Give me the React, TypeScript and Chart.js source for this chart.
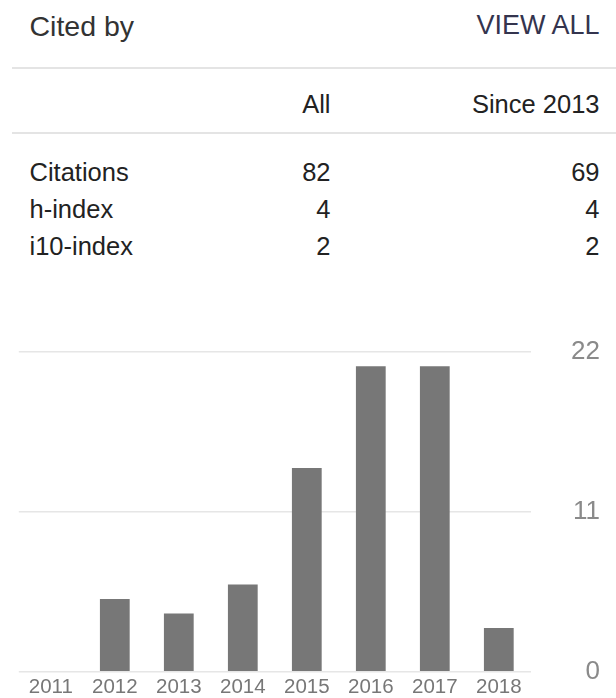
import React, { useEffect, useRef } from "react";
import { Chart, registerables } from "chart.js";

Chart.register(...registerables);

const years = ["2011", "2012", "2013", "2014", "2015", "2016", "2017", "2018"];
const citationsPerYear = [0, 5, 4, 6, 14, 21, 21, 3];
const yTicks = [0, 11, 22];

const columnHeaders = ["All", "Since 2013"];
const rowLabels = ["Citations", "h-index", "i10-index"];
const allValues = ["82", "4", "2"];
const sinceValues = ["69", "4", "2"];

const FONT = 'Arial, "Liberation Sans", sans-serif';

export default function App() {
  const canvasRef = useRef<HTMLCanvasElement | null>(null);

  useEffect(() => {
    const canvas = canvasRef.current;
    if (!canvas) return;
    const chart = new Chart(canvas, {
      type: "bar",
      data: {
        labels: years,
        datasets: [
          {
            data: citationsPerYear,
            backgroundColor: "#777777",
            borderWidth: 0,
            barPercentage: 0.93,
            categoryPercentage: 0.5,
          },
        ],
      },
      options: {
        responsive: false,
        animation: false,
        layout: { padding: { left: 18.8, right: 16, top: 51.7, bottom: 0.8 } },
        plugins: { legend: { display: false }, tooltip: { enabled: false } },
        scales: {
          x: {
            grid: { display: false, drawTicks: false },
            border: { display: false },
            afterFit: (scale: any) => {
              scale.height = 25.5;
            },
            ticks: {
              color: "#777777",
              padding: 5,
              font: { family: FONT, size: 20.5, lineHeight: 1 },
              maxRotation: 0,
              autoSkip: false,
            },
          },
          y: {
            position: "right",
            min: 0,
            max: 22,
            afterBuildTicks: (scale: any) => {
              scale.ticks = yTicks.map((v) => ({ value: v }));
            },
            afterFit: (scale: any) => {
              scale.width = 69.2;
              scale.paddingTop = 0;
              scale.paddingBottom = 0;
            },
            grid: { color: "#e6e6e6", lineWidth: 1.6, drawTicks: false },
            border: { display: false },
            ticks: {
              color: "#8a8a8a",
              padding: 40,
              crossAlign: "far",
              font: { family: FONT, size: 26, lineHeight: 1 },
            },
          },
        },
      },
    });
    return () => chart.destroy();
  }, []);

  const base: React.CSSProperties = {
    position: "absolute",
    fontFamily: FONT,
    whiteSpace: "nowrap",
  };
  const rowCenters = [173, 210, 247];

  return (
    <div
      style={{
        position: "absolute",
        left: 0,
        top: 0,
        width: 616,
        height: 698,
        background: "#ffffff",
        overflow: "hidden",
      }}
    >
      <div style={{ ...base, left: 29.5, top: 11.5, fontSize: 28.5, lineHeight: "28.5px", color: "#333333" }}>
        Cited by
      </div>
      <div style={{ ...base, right: 16.5, top: 12, fontSize: 27, lineHeight: "27px", color: "#34344e" }}>
        VIEW ALL
      </div>
      <div style={{ position: "absolute", left: 12, right: 0, top: 67, height: 2, background: "#e4e4e4" }} />
      <div style={{ ...base, right: 285.5, top: 92, fontSize: 25.5, lineHeight: "25.5px", color: "#222222" }}>
        {columnHeaders[0]}
      </div>
      <div style={{ ...base, right: 16.5, top: 92, fontSize: 25.5, lineHeight: "25.5px", color: "#222222" }}>
        {columnHeaders[1]}
      </div>
      <div style={{ position: "absolute", left: 12, right: 0, top: 132, height: 2, background: "#e4e4e4" }} />
      {rowLabels.map((label, i) => (
        <React.Fragment key={label}>
          <div style={{ ...base, left: 29.5, top: rowCenters[i] - 12.75, fontSize: 25.5, lineHeight: "25.5px", color: "#222222" }}>
            {label}
          </div>
          <div style={{ ...base, right: 285.5, top: rowCenters[i] - 12.75, fontSize: 25.5, lineHeight: "25.5px", color: "#222222" }}>
            {allValues[i]}
          </div>
          <div style={{ ...base, right: 16.5, top: rowCenters[i] - 12.75, fontSize: 25.5, lineHeight: "25.5px", color: "#222222" }}>
            {sinceValues[i]}
          </div>
        </React.Fragment>
      ))}
      <canvas
        ref={canvasRef}
        width={616}
        height={398}
        style={{ position: "absolute", left: 0, top: 300, width: 616, height: 398 }}
      />
    </div>
  );
}
